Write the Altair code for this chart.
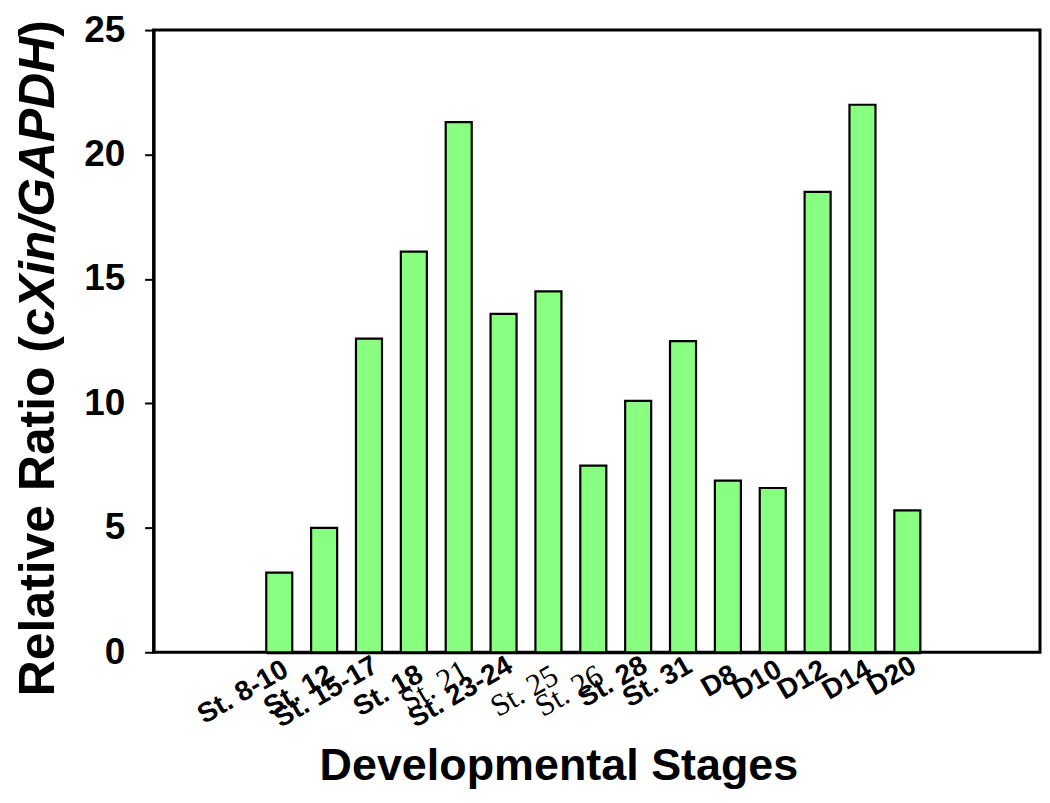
import altair as alt
import pandas as pd

stages = ["St. 8-10", "St. 12", "St. 15-17", "St. 18", "St. 21", "St. 23-24",
          "St. 25", "St. 26", "St. 28", "St. 31", "D8", "D10", "D12", "D14", "D20"]
ratios = [3.2, 5.0, 12.6, 16.1, 21.3, 13.6, 14.5, 7.5, 10.1, 12.5, 6.9, 6.6, 18.5, 22.0, 5.7]
y_ticks = [0, 5, 10, 15, 20, 25]
serif_labels = ["St. 21", "St. 25", "St. 26"]
low_labels = ["St. 12", "St. 25", "St. 18", "St. 26", "D8"]
high_labels = ["St. 15-17", "St. 23-24", "St. 28", "St. 31", "D20"]

x_title = "Developmental Stages"
y_title_parts = ["Relative Ratio (", "cXin/GAPDH", ")"]

df = pd.DataFrame({"stage": stages, "ratio": ratios})
one = pd.DataFrame({"k": [0]})

FONT = "Liberation Sans"


def in_list(lst):
    return "indexof(" + str(lst) + ", datum.value) >= 0"


serif_test = in_list(serif_labels)

bars = alt.Chart(df).mark_bar(
    color="#88FF80", stroke="black", strokeWidth=2.2
).encode(
    x=alt.X("stage:N", sort=stages,
            scale=alt.Scale(paddingInner=0.42, paddingOuter=0, range=[113, 769]),
            axis=alt.Axis(
                title=x_title, titleFont=FONT, titleFontSize=45, titleFontWeight="bold",
                titleColor="black", titleX=406, titleY=128, titleAlign="center",
                titleBaseline="alphabetic", titleAnchor="start",
                labelAngle=-30, labelAlign="right", labelBaseline="top",
                labelPadding={"condition": [
                    {"test": in_list(low_labels), "value": 8},
                    {"test": in_list(high_labels), "value": -1},
                ], "value": 3},
                ticks=False, labelColor="black",
                labelFont={"condition": {"test": serif_test, "value": "Liberation Serif"}, "value": FONT},
                labelFontWeight={"condition": {"test": serif_test, "value": "normal"}, "value": "bold"},
                labelFontSize={"condition": {"test": serif_test, "value": 31}, "value": 28},
                domainColor="black", domainWidth=3, labelOverlap=False,
            )),
    y=alt.Y("ratio:Q",
            scale=alt.Scale(domain=[0, 25], nice=False, zero=True),
            axis=alt.Axis(
                title=None, values=y_ticks, grid=False,
                labelFont=FONT, labelFontSize=37, labelFontWeight="bold", labelColor="black",
                labelPadding=20, tickSize=9, tickWidth=2, tickColor="black",
                domainColor="black", domainWidth=3,
            )),
)


def ytext(text, ypos, italic=False):
    return alt.Chart(one).mark_text(
        text=text, angle=270, align="left", baseline="alphabetic",
        font=FONT, fontSize=50, fontWeight="bold",
        fontStyle="italic" if italic else "normal", color="black",
    ).encode(x=alt.value(-100), y=alt.value(ypos))


chart = alt.layer(
    bars,
    ytext(y_title_parts[0], 668),
    ytext(y_title_parts[1], 306.8, italic=True),
    ytext(y_title_parts[2], 6.8),
).properties(
    width=889, height=624,
    autosize=alt.AutoSizeParams(type="none"),
    padding={"left": 146, "top": 21, "right": 2, "bottom": 137},
    background="white",
).configure_view(stroke="black", strokeWidth=3)

chart.save("out.html", embed_options={"renderer": "svg", "actions": False})
